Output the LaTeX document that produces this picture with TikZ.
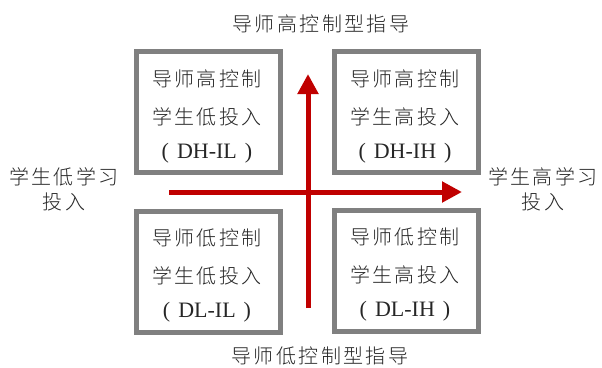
\documentclass[tikz,border=0pt]{standalone}
\usepackage{fontspec}
\setmainfont{Liberation Serif}
\newfontfamily\cjk[LetterSpace=12]{Noto Sans CJK SC Light}
\usetikzlibrary{arrows.meta}
\definecolor{boxgray}{HTML}{808080}
\definecolor{arrred}{HTML}{C00000}
\tikzset{
  quad/.style={draw=boxgray, line width=5pt, minimum width=144pt, minimum height=121pt, inner sep=0pt, fill=white},
  quadtext/.style={align=center, font=\cjk\fontsize{20}{38}\selectfont, inner sep=0pt, text=black!85},
  axislabel/.style={align=center, font=\cjk\fontsize{20}{25}\selectfont, inner sep=0pt, text=black!85},
  axisarrow/.style={draw=arrred, line width=5pt, -{Triangle[length=20pt,width=20pt]}},
}
\newcommand{\code}[1]{{\rmfamily\fontsize{22}{34}\selectfont(\hspace{8pt}#1\hspace{8pt})}}
\begin{document}
\begin{tikzpicture}[x=1pt,y=-1pt]
\useasboundingbox[fill=white] (0,0) rectangle (602,367);
% boxes
\node[quad] (tl) at (208,112) {};
\node[quad] (tr) at (406,112) {};
\node[quad] (bl) at (208,272) {};
\node[quad] (br) at (406,271) {};
% box texts
\node[quadtext] (tlt) at (207,116) {导师高控制\\学生低投入\\[-4pt]\code{DH-IL}};
\node[quadtext] (trt) at (405,116) {导师高控制\\学生高投入\\[-4pt]\code{DH-IH}};
\node[quadtext] (blt) at (207,275) {导师低控制\\学生低投入\\[-4pt]\code{DL-IL}};
\node[quadtext] (brt) at (405,274) {导师低控制\\学生高投入\\[-4pt]\code{DL-IH}};
% axes
\coordinate (hs) at (169,192);
\coordinate (he) at (462,192);
\coordinate (vs) at (308,308);
\coordinate (ve) at (308,74);
\draw[axisarrow] (hs) -- (he);
\draw[axisarrow] (vs) -- (ve);
% axis labels
\node[axislabel] (top) at (321,24) {导师高控制型指导};
\node[axislabel] (bot) at (320,356) {导师低控制型指导};
\node[axislabel] (left) at (64,189) {学生低学习\\投入};
\node[axislabel] (right) at (543,189) {学生高学习\\投入};
\end{tikzpicture}
\end{document}
